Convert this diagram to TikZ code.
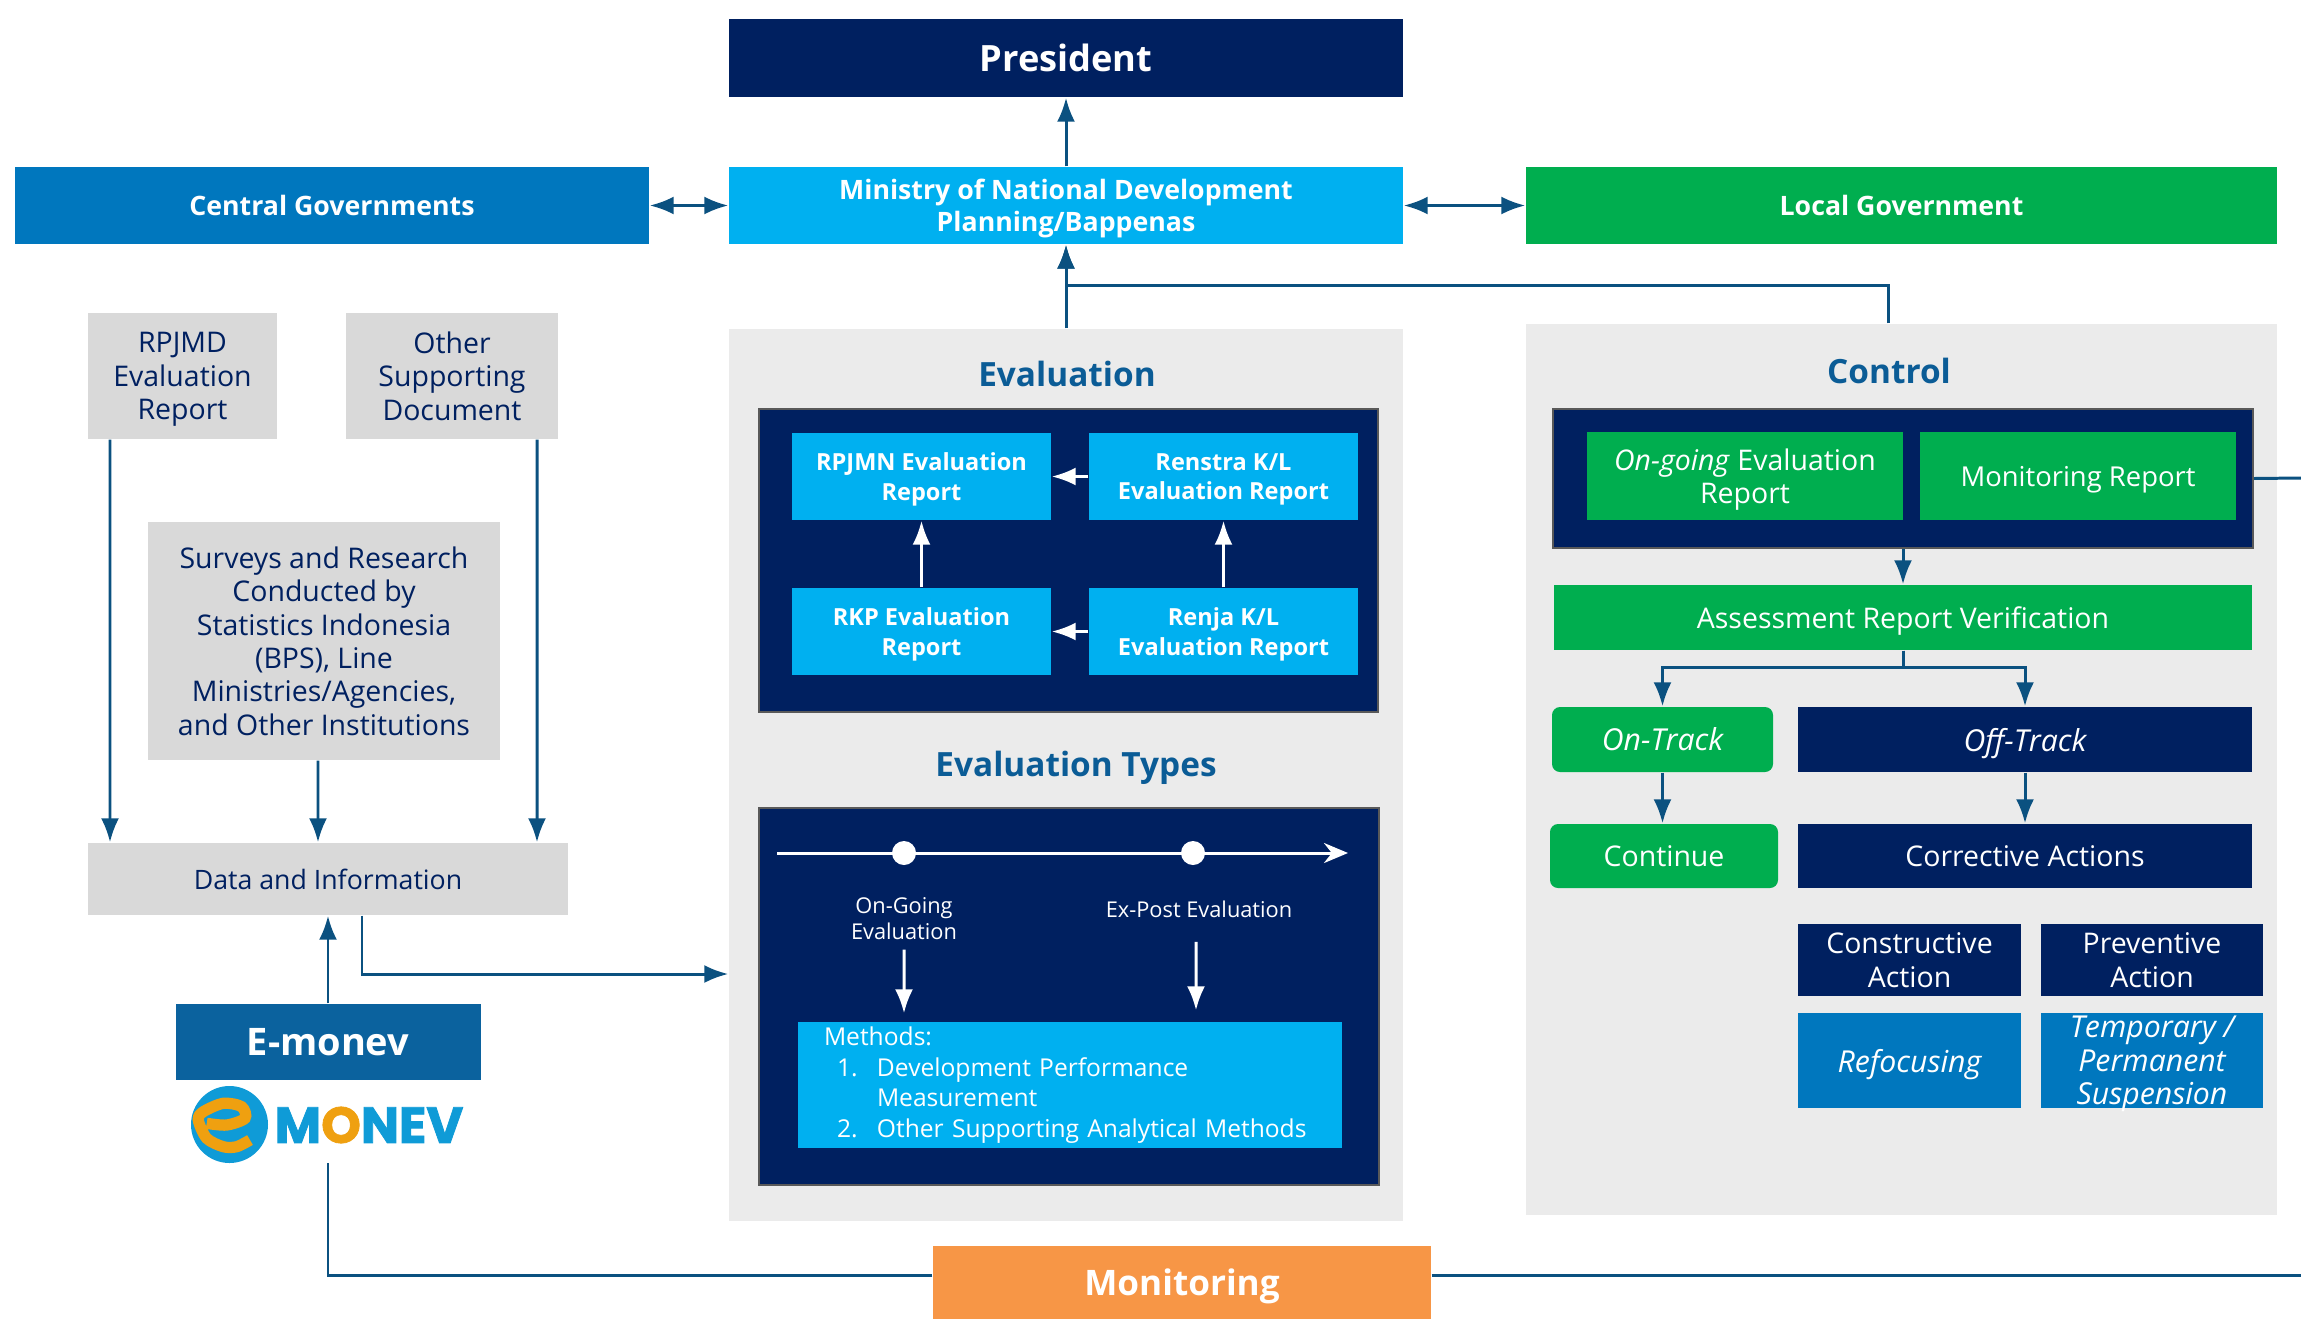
\documentclass[tikz,border=0pt]{standalone}
\usepackage{fontspec}
\usepackage{tikz}
\usetikzlibrary{arrows.meta}
\setmainfont{Open Sans}
\newfontfamily\logofont[BoldFeatures={FakeBold=1.6}]{Poppins}

\definecolor{navy}{HTML}{002060}
\definecolor{midblue}{HTML}{0077BE}
\definecolor{skyblue}{HTML}{00B0F0}
\definecolor{leafgreen}{HTML}{00AE4F}
\definecolor{softgrey}{HTML}{D9D9D9}
\definecolor{panelgrey}{HTML}{EBEBEB}
\definecolor{linkblue}{HTML}{0B5180}
\definecolor{titleblue}{HTML}{0B5C96}
\definecolor{emonevblue}{HTML}{0B629E}
\definecolor{carrot}{HTML}{F79646}
\definecolor{logoblue}{HTML}{0F9BD7}
\definecolor{logoorange}{HTML}{EFA010}

\tikzset{
  plainbox/.style={rectangle, inner sep=0pt, align=center, text=white, text depth=0pt, font=\fontsize{8.1}{9.5}\selectfont},
  italicbox/.style={plainbox, font=\fontsize{8.6}{9.5}\selectfont\itshape},
  headbox/.style={plainbox, font=\fontsize{#1}{9.2}\selectfont\bfseries},
  headbox/.default=7.6,
  greybox/.style={plainbox, fill=softgrey, text=navy},
  panel/.style={rectangle, inner sep=0pt, fill=panelgrey},
  darkbox/.style={rectangle, inner sep=0pt, fill=navy, draw=black!65, line width=0.6pt},
  paneltitle/.style={font=\fontsize{9.5}{12}\selectfont\bfseries, text=titleblue, inner sep=0pt, text depth=0pt},
  evalbox/.style={plainbox, font=\fontsize{6.7}{8.3}\selectfont\bfseries, fill=skyblue, minimum width=2.59cm, minimum height=0.87cm},
  conn/.style={draw=linkblue, line width=0.85pt, -{Latex[length=0.24cm,width=0.18cm]}},
  plainconn/.style={draw=linkblue, line width=0.85pt},
  whiteconn/.style={draw=white, line width=0.85pt, -{Latex[length=0.24cm,width=0.18cm]}},
}

\begin{document}
\begin{tikzpicture}
  \useasboundingbox (0, 0) rectangle (23.01, -13.19);

  % grey panels
  \node [panel, minimum width=6.74cm, minimum height=8.92cm] (evalpanel) at (10.66, -7.75) {};
  \node [panel, minimum width=7.51cm, minimum height=8.91cm] (ctrlpanel) at (19.015, -7.695) {};

  % top row
  \node [headbox=10.3, fill=navy, minimum width=6.74cm, minimum height=0.78cm] (president) at (10.66, -0.58) {President};
  \node [headbox, fill=midblue, minimum width=6.34cm, minimum height=0.77cm] (central) at (3.32, -2.055) {Central Governments};
  \node [headbox, fill=skyblue, minimum width=6.74cm, minimum height=0.77cm] (ministry) at (10.66, -2.055) {Ministry of National Development\\Planning/Bappenas};
  \node [headbox, fill=leafgreen, minimum width=7.51cm, minimum height=0.77cm] (localgov) at (19.015, -2.055) {Local Government};

  % left column
  \node [greybox, minimum width=1.89cm, minimum height=1.26cm] (rpjmd) at (1.825, -3.76) {RPJMD\\Evaluation\\Report};
  \node [greybox, minimum width=2.12cm, minimum height=1.26cm] (other) at (4.52, -3.76) {Other\\Supporting\\Document};
  \node [greybox, minimum width=3.52cm, minimum height=2.38cm] (surveys) at (3.24, -6.41) {Surveys and Research\\Conducted by\\Statistics Indonesia\\(BPS), Line\\Ministries/Agencies,\\and Other Institutions};
  \node [greybox, font=\fontsize{7.6}{9.5}\selectfont, minimum width=4.80cm, minimum height=0.72cm] (datainfo) at (3.28, -8.79) {Data and Information};
  \node [headbox=10.8, fill=emonevblue, minimum width=3.05cm, minimum height=0.76cm] (emonev) at (3.28, -10.42) {E-monev};

  % logo
  \fill [logoblue] (2.295, -11.245) circle [radius=0.385];
  \draw [logoorange, line width=3.2pt] plot [smooth] coordinates {(2.067, -11.233) (2.267, -11.25) (2.45, -11.183) (2.417, -11.067) (2.233, -11.033) (2.033, -11.117) (1.983, -11.2) (2.067, -11.383) (2.233, -11.467) (2.367, -11.467) (2.5, -11.4)};
  \node [font=\logofont\fontsize{14.4}{14}\selectfont\bfseries, text=logoblue, inner sep=0pt, anchor=west] (monev) at (2.74, -11.25) {M\textcolor{logoorange}{O}NEV};
  \coordinate (logobase) at (3.28, -11.63);

  % evaluation
  \node [paneltitle] (evaltitle) at (10.67, -3.74) {Evaluation};
  \node [darkbox, minimum width=6.19cm, minimum height=3.03cm] (evaldark) at (10.685, -5.605) {};
  \node [evalbox] (rpjmn) at (9.215, -4.765) {RPJMN Evaluation\\Report};
  \node [evalbox, minimum width=2.69cm] (renstra) at (12.235, -4.765) {Renstra K/L\\Evaluation Report};
  \node [evalbox] (rkp) at (9.215, -6.315) {RKP Evaluation\\Report};
  \node [evalbox, minimum width=2.69cm] (renja) at (12.235, -6.315) {Renja K/L\\Evaluation Report};
  \draw [whiteconn] (renstra) -- (rpjmn);
  \draw [whiteconn] (renja) -- (rkp);
  \draw [whiteconn] (rkp) -- (rpjmn);
  \draw [whiteconn] (renja) -- (renstra);

  % evaluation types
  \node [paneltitle] (typestitle) at (10.76, -7.64) {Evaluation Types};
  \node [darkbox, minimum width=6.20cm, minimum height=3.77cm] (typesdark) at (10.69, -9.965) {};
  \coordinate (linestart) at (7.77, -8.53);
  \coordinate (lineend) at (13.48, -8.53);
  \draw [white, line width=0.85pt, -{Stealth[length=0.24cm,width=0.2cm]}] (linestart) -- (lineend);
  \node [circle, fill=white, minimum size=0.24cm, inner sep=0pt] (dotone) at (9.04, -8.53) {};
  \node [circle, fill=white, minimum size=0.24cm, inner sep=0pt] (dottwo) at (11.93, -8.53) {};
  \node [plainbox, font=\fontsize{6.2}{7.4}\selectfont] (ongoing) at (9.04, -9.18) {On-Going\\Evaluation};
  \node [plainbox, font=\fontsize{6.2}{7.4}\selectfont] (expost) at (11.99, -9.09) {Ex-Post Evaluation};
  \node [plainbox, text depth={}, fill=skyblue, minimum width=5.44cm, minimum height=1.26cm, text width=4.92cm, align=left, font=\fontsize{7}{8.73}\selectfont] (methods) at (10.70, -10.85) {Methods:\\\hspace*{0.13cm}\makebox[0.40cm][l]{1.}Development Performance\\\hspace*{0.53cm}Measurement\\\hspace*{0.13cm}\makebox[0.40cm][l]{2.}Other Supporting Analytical Methods};
  \draw [whiteconn] (ongoing.south) ++(0, -0.1) -- ([xshift=-1.66cm, yshift=0.08cm]methods.north);
  \draw [whiteconn] ([xshift=-0.03cm]expost.south) ++(0, -0.24) -- ([xshift=1.26cm, yshift=0.11cm]methods.north);

  % control
  \node [paneltitle] (ctrltitle) at (18.89, -3.71) {Control};
  \node [darkbox, minimum width=7.00cm, minimum height=1.39cm] (ctrldark) at (19.03, -4.785) {};
  \node [plainbox, fill=leafgreen, minimum width=3.16cm, minimum height=0.88cm] (ongoingrep) at (17.45, -4.76) {\textit{On-going} Evaluation\\Report};
  \node [plainbox, fill=leafgreen, font=\fontsize{7.8}{9.5}\selectfont, minimum width=3.16cm, minimum height=0.88cm] (monrep) at (20.78, -4.76) {Monitoring Report};
  \node [plainbox, fill=leafgreen, minimum width=6.98cm, minimum height=0.65cm] (assess) at (19.03, -6.175) {Assessment Report Verification};
  \node [italicbox, fill=leafgreen, rounded corners=0.08cm, minimum width=2.21cm, minimum height=0.65cm] (ontrack) at (16.625, -7.395) {On-Track};
  \node [italicbox, fill=navy, minimum width=4.54cm, minimum height=0.65cm] (offtrack) at (20.25, -7.395) {Off-Track};
  \node [plainbox, fill=leafgreen, rounded corners=0.08cm, minimum width=2.28cm, minimum height=0.64cm] (continue) at (16.64, -8.56) {Continue};
  \node [plainbox, fill=navy, minimum width=4.54cm, minimum height=0.64cm] (corrective) at (20.25, -8.56) {Corrective Actions};
  \node [plainbox, fill=navy, minimum width=2.23cm, minimum height=0.72cm] (constructive) at (19.095, -9.60) {Constructive\\Action};
  \node [plainbox, fill=navy, minimum width=2.22cm, minimum height=0.72cm] (preventive) at (21.52, -9.60) {Preventive\\Action};
  \node [italicbox, fill=midblue, minimum width=2.23cm, minimum height=0.95cm] (refocus) at (19.095, -10.605) {Refocusing};
  \node [italicbox, fill=midblue, minimum width=2.22cm, minimum height=0.95cm] (suspend) at (21.52, -10.605) {Temporary /\\Permanent\\Suspension};

  % monitoring
  \node [headbox=10, fill=carrot, minimum width=4.98cm, minimum height=0.73cm] (monitoring) at (11.82, -12.825) {Monitoring};
  \coordinate (rightmon) at (23.01, -12.75);
  \coordinate (rightrep) at (23.01, -4.78);

  % connectors
  \draw [conn] (ministry) -- (president);
  \draw [conn, {Latex[length=0.24cm,width=0.18cm]}-{Latex[length=0.24cm,width=0.18cm]}] (central) -- (ministry);
  \draw [conn, {Latex[length=0.24cm,width=0.18cm]}-{Latex[length=0.24cm,width=0.18cm]}] (ministry) -- (localgov);
  \draw [conn] (evalpanel.north) -- (ministry.south);
  \draw [conn] ([xshift=-0.135cm]ctrlpanel.north) -- ++(0, 0.38) -| (ministry.south);
  \draw [conn] ([xshift=-0.725cm]rpjmd.south) -- ([xshift=-2.18cm]datainfo.north);
  \draw [conn] ([xshift=0.85cm]other.south) -- ([xshift=2.09cm]datainfo.north);
  \draw [conn] ([xshift=-0.06cm]surveys.south) -- ([xshift=-0.10cm]datainfo.north);
  \draw [conn] (emonev.north) -- (datainfo.south);
  \draw [conn] ([xshift=0.34cm]datainfo.south) |- ([yshift=-1.99cm]evalpanel.west);
  \draw [plainconn] ([yshift=0.075cm]monitoring.west) -| (logobase);
  \draw [plainconn] ([yshift=0.075cm]monitoring.east) -- (rightmon);
  \draw [plainconn] (ctrldark.east) -- (rightrep);
  \draw [conn] (ctrldark.south) -- (assess.north);
  \draw [conn] (assess.south) -- ++(0, -0.17) -| (ontrack.north);
  \draw [conn] (assess.south) -- ++(0, -0.17) -| (offtrack.north);
  \draw [conn] (ontrack.south) -- ([xshift=-0.015cm]continue.north);
  \draw [conn] (offtrack.south) -- (corrective.north);
\end{tikzpicture}
\end{document}
